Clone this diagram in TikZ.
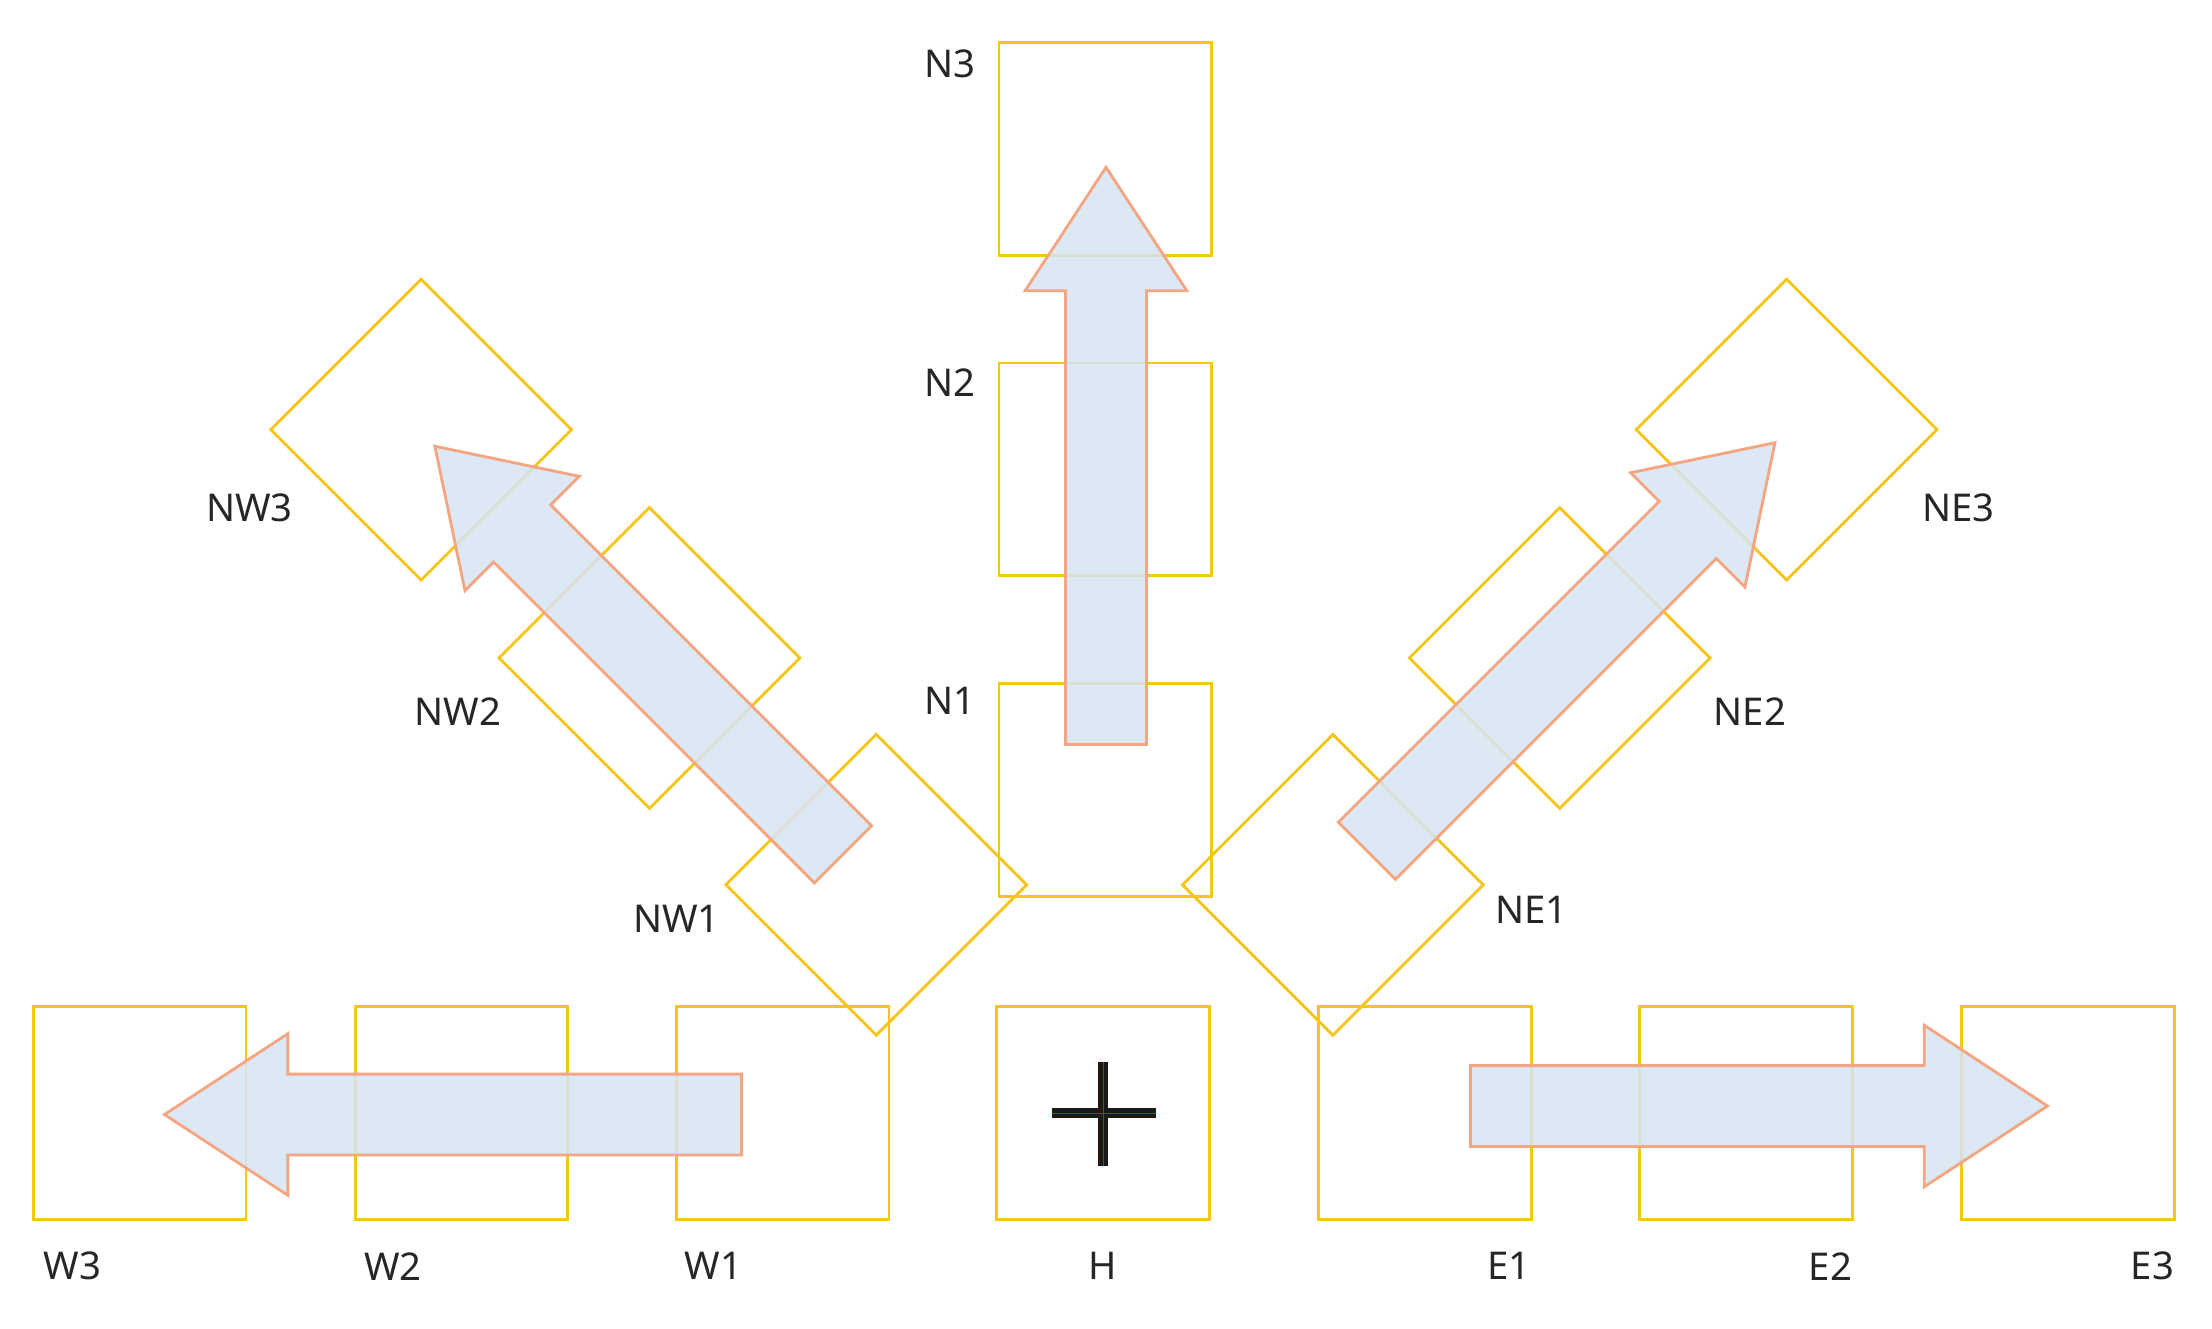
\documentclass[tikz,border=0pt]{standalone}
\usepackage{fontspec}
\setmainfont{Noto Sans}
\begin{document}
\begin{tikzpicture}[x=0.5pt,y=-0.5pt,
  box/.style={draw=yellowb,line width=1pt,minimum size=75pt,inner sep=0pt},
  dia/.style={box,rotate=45},
  lab/.style={font=\fontsize{13.5}{14}\selectfont\bfseries,text=black!85,inner sep=0pt},
  arr/.style={draw=orangeb,line width=1pt,fill=blueb,fill opacity=0.85,line join=miter}]
\definecolor{yellowb}{HTML}{F5C518}
\definecolor{orangeb}{HTML}{F4A582}
\definecolor{blueb}{HTML}{D6E4F2}
\useasboundingbox (0,0) rectangle (1560,936.6);
% squares
\node[box] (N3) at (779.5,105) {};
\node[box] (N2) at (779.5,331) {};
\node[box] (N1) at (779.5,557) {};
\node[box] (H) at (778,785) {};
\node[box] (W1) at (552,785) {};
\node[box] (W2) at (325.5,785) {};
\node[box] (W3) at (98.5,785) {};
\node[box] (E1) at (1005,785) {};
\node[box] (E2) at (1231.5,785) {};
\node[box] (E3) at (1458.5,785) {};
\node[dia] (NW1) at (618,624) {};
\node[dia] (NW2) at (458,464) {};
\node[dia] (NW3) at (297,303) {};
\node[dia] (NE1) at (940,624) {};
\node[dia] (NE2) at (1100,464) {};
\node[dia] (NE3) at (1260,303) {};
% labels
\node[lab] (lN3) at (670,45) {N3};
\node[lab] (lN2) at (670,270) {N2};
\node[lab] (lN1) at (670,494) {N1};
\node[lab] (lNW3) at (176,358) {NW3};
\node[lab] (lNW2) at (323,502) {NW2};
\node[lab] (lNW1) at (477,648) {NW1};
\node[lab] (lNE3) at (1381,358) {NE3};
\node[lab] (lNE2) at (1234,502) {NE2};
\node[lab] (lNE1) at (1080,642) {NE1};
\node[lab] (lW3) at (51,893) {W3};
\node[lab] (lW2) at (277,893) {W2};
\node[lab] (lW1) at (503,893) {W1};
\node[lab] (lH) at (778,893) {H};
\node[lab] (lE1) at (1064,893) {E1};
\node[lab] (lE2) at (1291,893) {E2};
\node[lab] (lE3) at (1518,893) {E3};
% cross
\draw[line width=3.5pt,black!90] (742,785) -- (815,785) (778,749) -- (778,822);
\draw[line width=0.4pt,red] (742,785) -- (815,785) (778,749) -- (778,822);
% arrows
\foreach \p/\a in {{(780,525)}/90,{(523,786)}/180,{(1037,780)}/0,{(594.5,602.5)}/135,{(964,600)}/45}{
  \draw[arr,shift={\p},rotate=\a] (0,-28.5) -- (320,-28.5) -- (320,-57) -- (407,0) -- (320,57) -- (320,28.5) -- (0,28.5) -- cycle;
}
\end{tikzpicture}
\end{document}
